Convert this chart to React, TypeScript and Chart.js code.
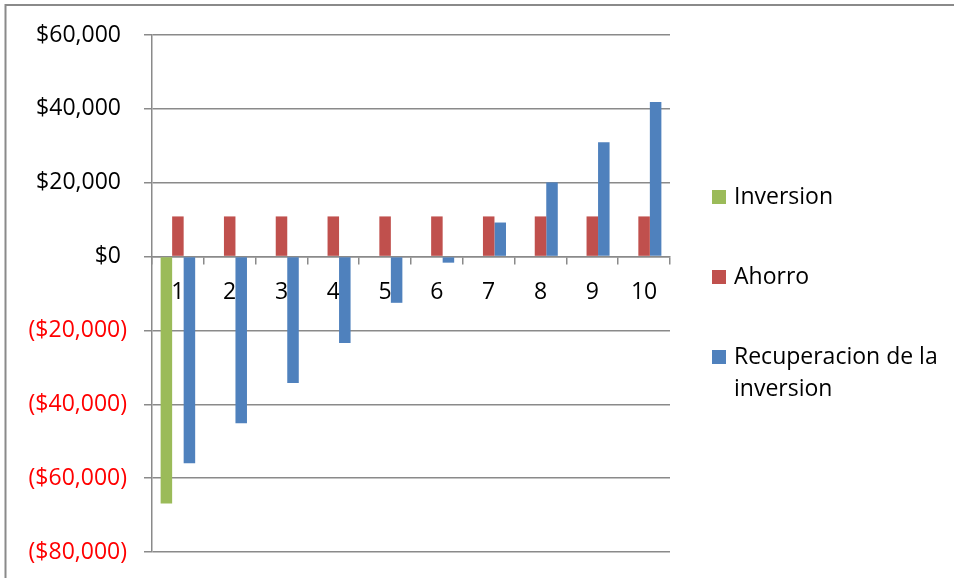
import React, { useEffect, useRef } from "react";
import { Chart, registerables } from "chart.js";

Chart.register(...registerables);

const categories = ["1", "2", "3", "4", "5", "6", "7", "8", "9", "10"];
const inversion = [-66870, 0, 0, 0, 0, 0, 0, 0, 0, 0];
const ahorro = [10870, 10870, 10870, 10870, 10870, 10870, 10870, 10870, 10870, 10870];
const recuperacion = [-56000, -45130, -34260, -23390, -12520, -1650, 9220, 20090, 30960, 41830];
const seriesNames = ["Inversion", "Ahorro", "Recuperacion de la inversion"];
const seriesColors = ["#9BBB59", "#C0504D", "#4F81BD"];

const FONT = "'Open Sans', 'Liberation Sans', sans-serif";
const FSIZE = 23;

function fmt(v: number): string {
  const s = "$" + Math.abs(v).toLocaleString("en-US");
  return v < 0 ? "(" + s + ")" : s + "\u2008";
}

const framePlugin = {
  id: "frame",
  beforeDraw(chart: any) {
    const ctx = chart.ctx;
    ctx.save();
    ctx.fillStyle = "#fff";
    ctx.fillRect(0, 0, chart.width, chart.height);
    ctx.strokeStyle = "#8a8a8a";
    ctx.lineWidth = 2;
    ctx.beginPath();
    ctx.moveTo(5.5, chart.height);
    ctx.lineTo(5.5, 5);
    ctx.lineTo(chart.width, 5);
    ctx.stroke();
    ctx.restore();
  },
};

const legendPlugin = {
  id: "customLegend",
  afterDraw(chart: any) {
    const ctx = chart.ctx;
    ctx.save();
    ctx.font = `${FSIZE}px ${FONT}`;
    ctx.textBaseline = "middle";
    ctx.textAlign = "left";
    const rows = [
      { y: 197, lines: [seriesNames[0]] },
      { y: 277, lines: [seriesNames[1]] },
      { y: 357, lines: ["Recuperacion de la", "inversion"] },
    ];
    rows.forEach((r, i) => {
      ctx.fillStyle = seriesColors[i];
      ctx.fillRect(712, r.y - 7, 14, 14);
      ctx.fillStyle = "#000";
      r.lines.forEach((t, j) => ctx.fillText(t, 734, r.y + j * 32));
    });
    ctx.restore();
  },
};

export default function App() {
  const ref = useRef<HTMLCanvasElement>(null);
  useEffect(() => {
    if (!ref.current) return;
    const chart = new Chart(ref.current, {
      type: "bar",
      data: {
        labels: categories,
        datasets: [
          { label: seriesNames[0], data: inversion, backgroundColor: seriesColors[0] },
          { label: seriesNames[1], data: ahorro, backgroundColor: seriesColors[1] },
          { label: seriesNames[2], data: recuperacion, backgroundColor: seriesColors[2] },
        ],
      },
      options: {
        animation: false,
        responsive: false,
        devicePixelRatio: 1,
        layout: { padding: { left: 0, right: 284, top: 35, bottom: 26 } },
        datasets: { bar: { categoryPercentage: 0.667, barPercentage: 1 } },
        plugins: { legend: { display: false }, tooltip: { enabled: false } },
        scales: {
          x: {
            type: "category",
            position: { y: 0 } as any,
            grid: { offset: true, drawOnChartArea: false, drawTicks: true, tickLength: 7, color: "#8a8a8a", lineWidth: 1.5 },
            border: { display: true, color: "#8a8a8a", width: 1.5 },
            ticks: { color: "#000", font: { family: FONT, size: FSIZE }, padding: 15, maxRotation: 0 },
            afterFit(scale: any) {
              scale.height = 0;
              scale.paddingLeft = 0;
              scale.paddingRight = 0;
            },
          },
          y: {
            min: -80000,
            max: 60000,
            grid: { color: "#8a8a8a", tickLength: 8, lineWidth: 1.5 },
            border: { display: true, color: "#8a8a8a", width: 1.5 },
            ticks: {
              stepSize: 20000,
              padding: 17,
              font: { family: FONT, size: FSIZE },
              color: (c: any) => (c.tick && c.tick.value < 0 ? "#FF0000" : "#000"),
              callback: (v: any) => fmt(Number(v)),
            },
            afterFit(scale: any) {
              scale.width = 152;
              scale.paddingTop = 0;
              scale.paddingBottom = 0;
            },
          },
        },
      },
      plugins: [framePlugin, legendPlugin],
    });
    return () => chart.destroy();
  }, []);
  return (
    <div style={{ position: "fixed", left: 0, top: 0, width: 954, height: 578, background: "#fff" }}>
      <canvas ref={ref} width={954} height={578} style={{ display: "block" }} />
    </div>
  );
}
